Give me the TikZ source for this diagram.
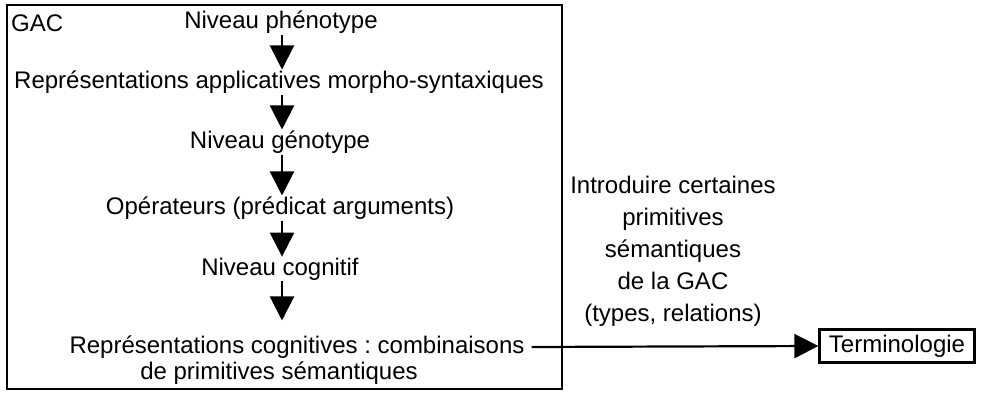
\documentclass[tikz,border=0pt]{standalone}
\usepackage{fontspec}
\setmainfont{Liberation Sans}
\usetikzlibrary{arrows.meta}
\frenchspacing
\begin{document}
\begin{tikzpicture}[x=1pt,y=-1pt,
  lbl/.style={inner sep=1pt, font=\fontsize{24}{29}\selectfont},
  frame/.style={draw, line width=2.2pt},
  flow/.style={line width=2.2pt, -{Triangle[width=24pt,length=24pt]}}]
\useasboundingbox (0,0) rectangle (983,393);
% outer frame of the GAC
\draw[frame] (7,5) rectangle (562,389);
\node[lbl, anchor=west] (gac) at (10,23) {GAC};
% levels, top to bottom
\node[lbl] (phe) at (281,22) {Niveau phénotype};
\node[lbl] (rap) at (279,82) {Représentations applicatives morpho-syntaxiques};
\node[lbl] (gen) at (280,142) {Niveau génotype};
\node[lbl] (ope) at (280,208) {Opérateurs (prédicat arguments)};
\node[lbl] (cog) at (280,269) {Niveau cognitif};
\node[lbl] (rcA) at (297,347) {Représentations cognitives : combinaisons};
\node[lbl] (rcB) at (279,373) {de primitives sémantiques};
% downward arrows between levels
\coordinate (ax) at (282,0);
\draw[flow] (ax |- phe.south) -- (ax |- rap.north);
\draw[flow] (ax |- rap.south) -- (ax |- gen.north);
\draw[flow] (ax |- gen.south) -- (ax |- ope.north);
\draw[flow] (ax |- ope.south) -- (ax |- cog.north);
\draw[flow, shorten >=14pt] (ax |- cog.south) -- (ax |- rcA.north);
% link to the terminology
\node[lbl, align=center, font=\fontsize{24}{32}\selectfont] (intro) at (673,251)
  {Introduire certaines\\primitives\\sémantiques\\de la GAC\\(types, relations)};
\node[lbl, frame, minimum width=155pt, minimum height=33pt] (term) at (897,346) {Terminologie};
\draw[flow] ([xshift=6pt]rcA.east) -- (term.west);
\end{tikzpicture}
\end{document}
